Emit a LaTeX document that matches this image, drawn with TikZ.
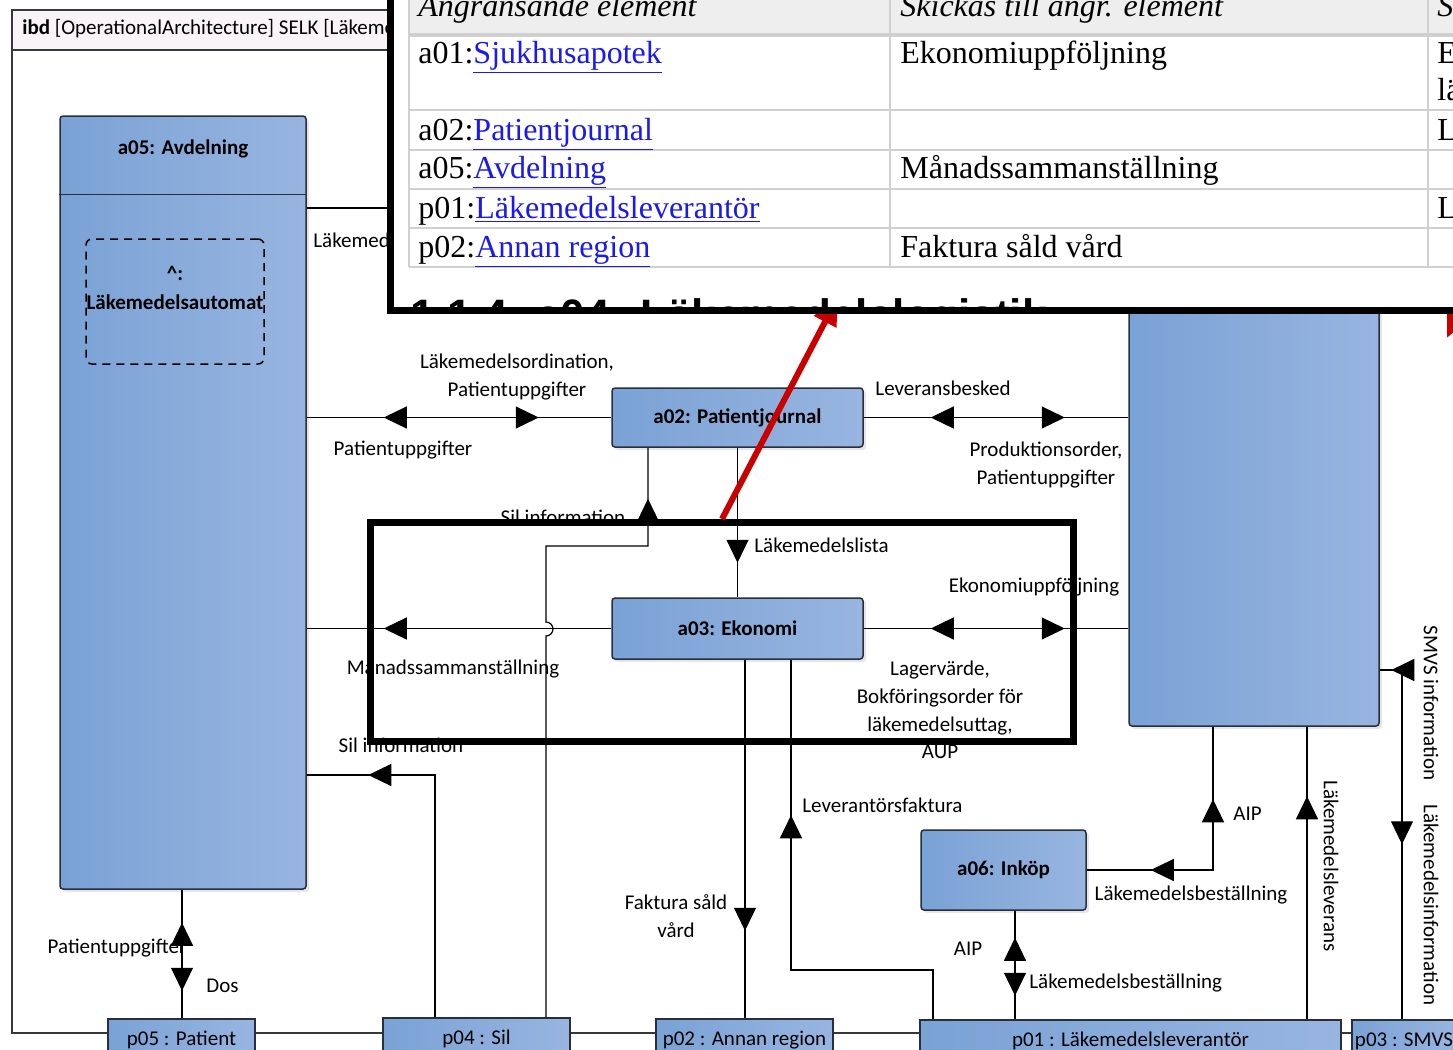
\documentclass[tikz,border=0pt]{standalone}
\usepackage{fontspec}
\setmainfont{Carlito}
\newfontfamily\tabfont{Liberation Serif}
\newfontfamily\headfont{Liberation Sans}
\usepackage{xcolor}
\usetikzlibrary{arrows.meta}
\usetikzlibrary{shadows}
\usetikzlibrary{decorations.markings}
\usetikzlibrary{calc}

\definecolor{blkleft}{RGB}{122,162,213}
\definecolor{blkright}{RGB}{152,181,224}
\definecolor{blkline}{RGB}{40,46,60}
\definecolor{frameline}{RGB}{55,55,60}
\definecolor{headfill}{RGB}{248,244,248}
\definecolor{gridgrey}{RGB}{208,208,208}
\definecolor{thfill}{RGB}{238,238,238}
\definecolor{linkblue}{RGB}{25,25,240}
\definecolor{annred}{RGB}{200,0,0}

\newcommand{\lnk}[1]{\textcolor{linkblue}{\underline{#1}}}

\tikzset{
    flowtip/.tip = {Triangle[length=11.5pt, width=11pt]},
    blk_node/.style = {draw=blkline, line width=0.75pt, rounded corners=1.5pt, left color=blkleft, right color=blkright,
        drop shadow={shadow xshift=1.5pt, shadow yshift=-1.5pt, opacity=0.2},
        font=\fontsize{10.5}{13}\selectfont\bfseries, align=center, inner sep=0pt},
    port_node/.style = {draw=blkline, line width=0.75pt, left color=blkleft, right color=blkright,
        font=\fontsize{10.5}{13}\selectfont, inner sep=0pt},
    part_node/.style = {draw=black, dashed, dash pattern=on 4pt off 3pt, line width=0.75pt, rounded corners=3pt},
    lbl/.style = {font=\fontsize{10.5}{13.8}\selectfont, align=center, inner sep=0pt},
    conn/.style = {draw=black, line width=0.6pt},
    fwd/.style = {postaction={decorate, decoration={markings, mark=at position #1 with {\arrow{flowtip}}}}},
    bwd/.style = {postaction={decorate, decoration={markings, mark=at position #1 with {\arrowreversed{flowtip}}}}},
    hl_box/.style = {draw=black, line width=3.5pt},
    red_arrow/.style = {draw=annred, line width=3pt, -{Triangle[length=14pt, width=12pt]}},
    grid_line/.style = {draw=gridgrey, line width=1pt},
    tcell/.style = {font=\tabfont\fontsize{16}{19}\selectfont, anchor=base west, inner sep=0pt},
}

\begin{document}
\begin{tikzpicture}[x=0.5pt, y=-0.5pt]
\clip (0,0) rectangle (1453,1050);

% frame
\fill[headfill] (12,10) rectangle (1500,50);
\draw[frameline, line width=0.8pt] (1500,1033) -- (12,1033) -- (12,10) -- (1500,10);
\draw[frameline, line width=0.8pt] (12,50) -- (1500,50);
\node[lbl, anchor=west] (title) at (22,29) {\textbf{ibd} [OperationalArchitecture] SELK [Läkemedelslogistik]};

% blocks
\node[blk_node, minimum width=123pt, minimum height=386.5pt] (a05) at (183,502.5) {};
\node[lbl, font=\fontsize{10.5}{13}\selectfont\bfseries] (a05t) at (183,149) {a05: Avdelning};
\draw[blkline, line width=0.75pt] ($(a05.north west)+(0,79)$) -- ($(a05.north east)+(0,79)$);
\node[part_node, minimum width=89pt, minimum height=62.5pt] (lma) at (175,301.5) {};
\node[lbl, font=\fontsize{10.5}{14.5}\selectfont\bfseries] (lmat) at (175,288) {\textasciicircum:\\Läkemedelsautomat};

\node[blk_node, minimum width=125.5pt, minimum height=29.5pt] (a02) at (737.5,417.5) {a02: Patientjournal};
\node[blk_node, minimum width=125.5pt, minimum height=30.5pt] (a03) at (737.5,628.5) {a03: Ekonomi};
\node[blk_node, minimum width=82.5pt, minimum height=40pt] (a06) at (1003.5,870) {a06: Inköp};
\node[blk_node, minimum width=125pt, minimum height=288pt] (a01) at (1254,438) {};

% ports
\node[port_node, minimum width=73.5pt, minimum height=21pt] (p05) at (181.5,1040) {p05 : Patient};
\node[port_node, minimum width=93.5pt, minimum height=21pt] (p04) at (476.5,1039) {p04 : Sil};
\node[port_node, minimum width=88.5pt, minimum height=21pt] (p02) at (744.5,1040) {p02 : Annan region};
\node[port_node, minimum width=210.5pt, minimum height=21pt] (p01) at (1130.5,1041) {p01 : Läkemedelsleverantör};
\node[port_node, minimum width=52pt, minimum height=21pt] (p03) at (1404,1041) {p03 : SMVS};

% connectors
\draw[conn] (a05.east |- 0,208) -- (a01.west |- 0,208);
\draw[conn, bwd=38.5pt, fwd=116pt] (a05.east |- a02.west) -- (a02.west);
\draw[conn, bwd=33.5pt, fwd=100.5pt] (a02.east) -- (a01.west |- a02.east);
\draw[conn, fwd=57.5pt] (a02.south) -- (a03.north);
\draw[conn, bwd=25.5pt] (648,0 |- a02.south) -- (648,546) -- (546,546) -- (546,622)
    arc[start angle=-90, end angle=90, radius=7] -- (546,0 |- p04.north);
\draw[conn, bwd=38.5pt] (a05.east |- a03.west) -- (a03.west);
\draw[conn, bwd=33.5pt, fwd=100.5pt] (a03.east) -- (a01.west |- a03.east);
\draw[conn, fwd=135.5pt] (745,0 |- a03.south) -- (745,0 |- p02.north);
\draw[conn, fwd=173pt] (933,0 |- p01.north) -- (933,970) -- (791,970) -- (791,0 |- a03.south);
\draw[conn, fwd=154.5pt] (435,0 |- p04.north) -- (435,775) -- (a05.east |- 0,775);
\draw[conn, bwd=16.5pt, fwd=50.5pt] (182,0 |- a05.south) -- (182,0 |- p05.north);
\draw[conn, bwd=32pt, fwd=98.5pt] (a06.east) -- (1213,0 |- a06.east) -- (1213,0 |- a01.south);
\draw[conn, bwd=13.5pt, fwd=42.5pt] (1015,0 |- a06.south) -- (1015,0 |- p01.north);
\draw[conn, fwd=111.5pt] (1307,0 |- p01.north) -- (1307,0 |- a01.south);
\draw[conn, bwd=87.5pt, fwd=180pt] (1402,0 |- p03.north) -- (1402,670) -- (a01.east |- 0,670);

% flow labels
\begin{scope}
    \clip (0,0) rectangle (390,1050);
    \node[lbl, anchor=west] (l_top) at (313,240) {Läkemedel};
\end{scope}
\node[lbl] (l_ord) at (517,377) {Läkemedelsordination,\\Patientuppgifter};
\node[lbl] (l_pat1) at (403,450) {Patientuppgifter};
\node[lbl] (l_lev) at (943,388) {Leveransbesked};
\node[lbl] (l_prod) at (1046,465) {Produktionsorder,\\Patientuppgifter};
\node[lbl, anchor=west] (l_lista) at (754,545) {Läkemedelslista};
\node[lbl] (l_sil1) at (563,517) {Sil information};
\node[lbl] (l_man) at (453,669) {Månadssammanställning};
\node[lbl] (l_eko) at (1034,587) {Ekonomiuppföljning};
\node[lbl] (l_lager) at (940,710) {Lagervärde,\\Bokföringsorder för\\läkemedelsuttag,\\AUP};
\node[lbl] (l_fakt) at (676,916) {Faktura såld\\vård};
\node[lbl, anchor=west] (l_levf) at (802,805) {Leverantörsfaktura};
\node[lbl] (l_sil2) at (401,745) {Sil information};
\node[lbl] (l_pat2) at (117,948) {Patientuppgifter};
\node[lbl, anchor=west] (l_dos) at (206,986) {Dos};
\node[lbl, anchor=west] (l_aip1) at (1233,814) {AIP};
\node[lbl] (l_best1) at (1191,895) {Läkemedelsbeställning};
\node[lbl] (l_aip2) at (968,949) {AIP};
\node[lbl, anchor=west] (l_best2) at (1029,983) {Läkemedelsbeställning};
\node[lbl, rotate=-90] (l_leverans) at (1331,866) {Läkemedelsleverans};
\node[lbl, rotate=-90] (l_smvs) at (1431,703) {SMVS information};
\node[lbl, rotate=-90] (l_lminfo) at (1431,905) {Läkemedelsinformation};

% highlight and pointers
\node[hl_box, minimum width=351.5pt, minimum height=109.5pt] (focus) at (722,632) {};
\coordinate (tblfoot) at (838,297);
\coordinate (tblfoot2) at (1447,338);
\coordinate (tblside) at (1470,288);
\draw[red_arrow] (722,0 |- focus.north) -- (tblfoot);
\draw[red_arrow] (tblside) -- (tblfoot2);

% pasted table
\fill[white] (390,-10) rectangle (1470,310.5);
\fill[thfill] (409,-10) rectangle (1470,35);
\foreach \y in {110,150,189,228,267}
    \draw[grid_line] (409,\y) -- (1470,\y);
\draw[gridgrey, line width=2pt] (409,35) -- (1470,35);
\foreach \x in {409,890,1428}
    \draw[grid_line] (\x,-10) -- (\x,267);
\node[tcell] (h1) at (418,16) {\itshape Angränsande element};
\node[tcell] (h2) at (900,16) {\itshape Skickas till angr. element};
\node[tcell] (h3) at (1437,16) {\itshape S};
\node[tcell] (r1a) at (418,63) {a01:\lnk{Sjukhusapotek}};
\node[tcell] (r1b) at (900,63) {Ekonomiuppföljning};
\node[tcell] (r1c) at (1437,63) {E};
\node[tcell] (r1d) at (1437,100) {lä};
\node[tcell] (r2a) at (418,140) {a02:\lnk{Patientjournal}};
\node[tcell] (r2c) at (1437,140) {L};
\node[tcell] (r3a) at (418,178) {a05:\lnk{Avdelning}};
\node[tcell] (r3b) at (900,178) {Månadssammanställning};
\node[tcell] (r4a) at (418,218) {p01:\lnk{Läkemedelsleverantör}};
\node[tcell] (r4c) at (1437,218) {L};
\node[tcell] (r5a) at (418,257) {p02:\lnk{Annan region}};
\node[tcell] (r5b) at (900,257) {Faktura såld vård};
\begin{scope}
    \clip (393,0) rectangle (1470,307);
    \node[anchor=base west, inner sep=0pt, font=\headfont\bfseries\fontsize{22}{26}\selectfont] (sec) at (410,330) {1.1.4\hspace{14pt}a04: Läkemedelslogistik};
\end{scope}
\draw[line width=3.5pt] (390,-10) -- (390,310.5) -- (1470,310.5);
\end{tikzpicture}
\end{document}
